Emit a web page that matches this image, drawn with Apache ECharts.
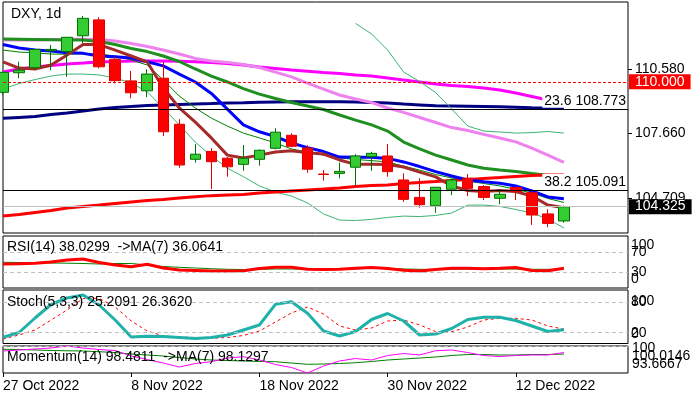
<!DOCTYPE html>
<html>
<head>
<meta charset="utf-8">
<title>DXY, 1d</title>
<script src="https://cdn.jsdelivr.net/npm/echarts@6/dist/echarts.min.js"></script>
<style>
    html, body { margin: 0; padding: 0; background: #fff; }
    #chart { width: 698px; height: 397px; }
</style>
</head>
<body>
<div id="chart"></div>
<script>
var FONT = 'Liberation Sans';

// trading days, last four are empty space on the right
var dates = ['27 Oct 2022', '28 Oct 2022', '31 Oct 2022', '1 Nov 2022', '2 Nov 2022', '3 Nov 2022', '4 Nov 2022',
    '7 Nov 2022', '8 Nov 2022', '9 Nov 2022', '10 Nov 2022', '11 Nov 2022', '14 Nov 2022', '15 Nov 2022',
    '16 Nov 2022', '17 Nov 2022', '18 Nov 2022', '21 Nov 2022', '22 Nov 2022', '23 Nov 2022', '24 Nov 2022',
    '25 Nov 2022', '28 Nov 2022', '29 Nov 2022', '30 Nov 2022', '1 Dec 2022', '2 Dec 2022', '5 Dec 2022',
    '6 Dec 2022', '7 Dec 2022', '8 Dec 2022', '9 Dec 2022', '12 Dec 2022', '13 Dec 2022', '14 Dec 2022',
    '15 Dec 2022', '16 Dec 2022', '19 Dec 2022', '20 Dec 2022', '21 Dec 2022'];

var opens = [109.52, 110.41, 110.64, 111.41, 111.37, 112.09, 112.81, 111.02, 110.04, 109.59, 110.16, 108.07,
    106.48, 106.84, 106.53, 106.25, 106.48, 106.98, 107.57, 106.99, 105.81, 105.84, 106.12, 106.60, 106.63,
    105.54, 104.75, 104.37, 105.12, 105.62, 105.24, 104.71, 105.20, 104.96, 104.00, 103.68];
var closes = [110.43, 110.53, 111.47, 111.47, 112.02, 112.88, 110.68, 110.05, 109.50, 110.35, 107.73, 106.22,
    106.71, 106.37, 106.14, 106.53, 106.89, 107.71, 107.07, 106.03, 105.79, 105.93, 106.63, 106.75, 105.92,
    104.66, 104.42, 105.21, 105.54, 105.16, 104.75, 104.89, 105.01, 103.95, 103.57, 104.325];
var lows = [109.40, 110.16, 110.53, 110.53, 110.23, 111.75, 110.61, 109.93, 109.25, 109.30, 107.54, 106.10,
    106.33, 105.13, 105.69, 105.96, 106.19, 106.93, 107.02, 105.87, 105.51, 105.62, 105.27, 105.96, 105.69,
    104.55, 104.28, 104.05, 104.85, 104.81, 104.63, 104.44, 104.63, 103.50, 103.39, 103.60];
var highs = [110.46, 110.91, 111.49, 111.67, 112.03, 112.99, 112.93, 111.14, 110.49, 110.57, 110.91, 108.30,
    107.17, 106.98, 106.58, 107.13, 106.93, 107.89, 107.66, 107.12, 105.99, 106.33, 106.71, 106.82, 107.17,
    105.84, 105.62, 105.22, 105.61, 105.81, 105.31, 105.09, 105.23, 105.09, 104.21, 104.38];

var brownMa = [110.90, 110.62, 110.58, 110.76, 111.22, 111.69, 111.69, 111.44, 111.17, 110.90, 109.72, 108.81,
    108.17, 107.45, 106.67, 106.54, 106.67, 106.81, 106.87, 106.78, 106.72, 106.45, 106.25, 106.25, 106.24,
    106.13, 105.90, 105.68, 105.27, 105.06, 105.02, 105.06, 105.02, 104.81, 104.40, 104.28];
var blueMa = [111.69, 111.53, 111.44, 111.40, 111.32, 111.29, 111.17, 111.14, 111.08, 110.91, 110.72, 110.35,
    109.99, 109.47, 108.76, 108.04, 107.73, 107.51, 107.22, 107.01, 106.83, 106.58, 106.57, 106.57, 106.52,
    106.36, 106.15, 105.92, 105.72, 105.54, 105.46, 105.39, 105.27, 105.04, 104.77, 104.69];
var bandMid = [111.94, 111.93, 111.92, 111.91, 111.90, 111.90, 111.83, 111.69, 111.51, 111.37, 111.17, 110.92,
    110.58, 110.26, 109.99, 109.69, 109.44, 109.24, 109.06, 108.90, 108.74, 108.49, 108.26, 108.04, 107.76,
    107.26, 106.95, 106.67, 106.45, 106.22, 106.07, 105.99, 105.93, 105.83, 105.74, 105.70];
var bandUpper = [null, null, null, null, null, null, null, null, null, null, null, null, null, null, null,
    null, null, null, null, null, null, null, 112.65, 112.17, 111.44, 110.44, 110.01, 109.51, 108.76, 107.99,
    107.76, 107.72, 107.67, 107.69, 107.74, 107.67];
var bandLower = [109.67, 109.92, 110.10, 110.26, 110.35, 110.35, 110.31, 110.17, 109.94, 109.54, 108.81, 108.04,
    107.26, 106.63, 106.08, 105.69, 105.27, 104.99, 104.81, 104.50, 104.00, 103.72, 103.70, 103.75, 103.84,
    103.90, 103.88, 103.93, 104.04, 104.40, 104.40, 104.34, 104.20, 104.04, 103.77, 103.36];
var violetMa = [111.90, 111.90, 111.90, 111.92, 111.93, 111.93, 111.92, 111.85, 111.74, 111.60, 111.44, 111.26,
    111.06, 110.94, 110.88, 110.78, 110.65, 110.44, 110.22, 109.94, 109.67, 109.40, 109.22, 109.06, 108.81,
    108.61, 108.38, 108.15, 107.92, 107.79, 107.61, 107.45, 107.27, 106.99, 106.67, 106.34];
var magentaMa = [110.44, 110.58, 110.67, 110.74, 110.81, 110.85, 110.90, 110.92, 110.94, 110.94, 110.94, 110.93,
    110.91, 110.88, 110.83, 110.76, 110.67, 110.60, 110.53, 110.48, 110.42, 110.38, 110.31, 110.26, 110.17,
    110.08, 109.99, 109.90, 109.83, 109.79, 109.72, 109.63, 109.49, 109.33, 109.17, 109.04];
var navyMa = [108.34, 108.38, 108.42, 108.51, 108.58, 108.67, 108.76, 108.83, 108.88, 108.92, 108.95, 108.97,
    108.99, 109.01, 109.04, 109.05, 109.07, 109.08, 109.09, 109.09, 109.09, 109.09, 109.08, 109.06, 109.04,
    108.99, 108.95, 108.91, 108.90, 108.89, 108.88, 108.86, 108.84, 108.82, 108.81, 108.80];
var redMa = [103.90, 103.97, 104.06, 104.15, 104.27, 104.34, 104.40, 104.47, 104.54, 104.61, 104.65, 104.72,
    104.78, 104.83, 104.86, 104.88, 104.95, 104.99, 105.04, 105.09, 105.13, 105.18, 105.24, 105.29, 105.31,
    105.38, 105.43, 105.47, 105.52, 105.56, 105.61, 105.65, 105.70, 105.74, 105.77, 105.77];
var thinMa = [111.44, 111.35, 111.31, 111.26, 111.25, 111.28, 111.26, 111.17, 110.99, 110.76, 110.08, 109.35,
    108.81, 108.35, 107.99, 107.67, 107.45, 107.22, 106.95, 106.81, 106.67, 106.54, 106.47, 106.42, 106.36,
    106.17, 105.99, 105.79, 105.63, 105.49, 105.38, 105.27, 105.11, 104.95, 104.70, 104.52];

var rsi = [46.6, 47.2, 48.0, 50.6, 54.6, 56.6, 49.6, 44.6, 41.2, 46.0, 38.6, 34.6, 33.6, 32.6, 32.6, 33.2, 37.6,
    40.0, 40.0, 36.0, 35.6, 36.0, 38.0, 39.6, 37.6, 34.0, 32.6, 35.6, 38.0, 38.0, 37.2, 38.0, 39.6, 33.6, 33.2,
    38.0299];
var rsiMa = [50.0, 49.6, 48.6, 48.6, 48.2, 47.6, 46.6, 47.6, 47.6, 44.6, 41.6, 40.0, 38.6, 37.2, 36.0, 35.6, 36.0,
    36.6, 36.6, 36.0, 36.0, 36.0, 36.6, 38.6, 37.6, 36.6, 36.0, 35.6, 36.0, 36.6, 36.6, 36.6, 36.6, 36.0, 36.0,
    36.0641];
var stochK = [10.0, 19.6, 48.6, 75.6, 88.6, 94.6, 74.6, 44.6, 10.6, 12.2, 11.6, 9.6, 7.6, 9.6, 14.6, 24.6, 34.6,
    76.0, 81.2, 58.0, 22.6, 12.6, 21.6, 45.6, 57.6, 42.6, 14.6, 16.6, 27.6, 45.6, 50.0, 50.0, 43.6, 32.6, 21.6,
    25.2091];
var stochD = [6.6, 14.6, 24.6, 44.6, 64.6, 87.6, 88.0, 70.6, 42.6, 22.6, 12.6, 10.6, 9.6, 8.0, 9.6, 13.6, 22.6,
    40.6, 58.6, 70.6, 56.6, 32.6, 24.6, 28.6, 42.6, 44.6, 34.6, 21.6, 21.2, 30.6, 44.6, 48.0, 48.0, 44.6, 32.6,
    26.3620];
var momentum = [98.84, 99.07, 99.31, 99.54, 100.0146, 99.54, 99.19, 98.96, 97.66, 96.84, 96.01, 95.07, 95.90,
    96.32, 97.19, 97.50, 96.72, 95.66, 94.96, 93.6667, 95.31, 96.49, 97.07, 96.72, 97.78, 98.25, 97.90, 98.91,
    99.07, 98.48, 97.78, 97.54, 97.78, 97.90, 97.90, 98.4811];
var momentumMa = [99.24, 99.19, 99.07, 98.96, 98.89, 98.84, 98.67, 98.48, 98.13, 97.90, 97.66, 97.31, 96.96,
    96.72, 96.60, 96.49, 96.37, 96.32, 96.01, 95.71, 95.78, 95.90, 96.08, 96.37, 96.72, 96.96, 97.19, 97.43,
    97.78, 98.01, 98.01, 97.90, 97.90, 98.01, 98.01, 98.1297];

// tick labels and reference levels
var priceTicks = [104.709, 107.660, 110.580];
var fibLevels = ['23.6', '38.2'];
var fibPrices = [108.773, 105.091];
var roundLevel = 110.000;
var lastPrice = 104.325;
var rsiTicks = [30, 70];
var rsiEdgeTicks = [0, 100];
var rsiLevels = [30, 70];
var stochTicks = [20, 80];
var stochEdgeTicks = [0, 100];
var stochLevels = [20, 80];
var momentumTicks = [93.6667, 100];
var momentumEdgeTicks = [100.0146];
var momentumLevels = [100];

var last = closes.length - 1;
var candles = opens.map(function(o, i) {
    return [o, closes[i], lows[i], highs[i]];
});

//label helper: moves selected labels up/down inside the panel
function panelLabels(ticks, shifts, margin) {
    var base = { fontFamily: FONT, fontSize: 14, color: '#000' };
    var rich = { n: base };
    Object.keys(shifts).forEach(function(k) {
        var s = shifts[k];
        rich['s' + k.replace('.', '_')] = Object.assign({}, base, {
            padding: s > 0 ? [2 * s, 0, 0, 0] : [0, 0, -2 * s, 0]
        });
    });
    return {
        customValues: ticks,
        margin: margin,
        hideOverlap: false,
        formatter: function(v) {
            var key = String(v);
            var tag = shifts[key] !== undefined ? 's' + key.replace('.', '_') : 'n';
            return '{' + tag + '|' + key + '}';
        },
        rich: rich
    };
}

function levelLines(levels) {
    return {
        symbol: 'none',
        silent: true,
        label: { show: false },
        lineStyle: { color: '#c0c0c0', type: [4, 3], width: 1 },
        data: levels.map(function(v) { return { yAxis: v }; })
    };
}

function line(data, color, width, axis, extra) {
    return Object.assign({
        type: 'line',
        data: data,
        xAxisIndex: axis,
        yAxisIndex: axis,
        symbol: 'none',
        showSymbol: false,
        silent: true,
        z: 2,
        lineStyle: { color: color, width: width },
        itemStyle: { color: color }
    }, extra || {});
}

var grids = [
    { top: 2, height: 231 },
    { top: 236, height: 52 },
    { top: 290, height: 53.5 },
    { top: 346, height: 27 }
].map(function(g) {
    return Object.assign({
        left: 3,
        right: 70,
        show: true,
        borderColor: '#000',
        borderWidth: 1,
        outerBoundsMode: 'none'
    }, g);
});

var xAxes = grids.map(function(g, i) {
    var bottom = i === 3;
    return {
        type: 'category',
        gridIndex: i,
        data: dates,
        boundaryGap: false,
        axisLine: { show: false },
        splitLine: { show: false },
        axisTick: { show: bottom, interval: 7, length: 4, lineStyle: { color: '#000' } },
        axisLabel: {
            show: bottom,
            interval: 7,
            align: 'left',
            margin: 6,
            fontFamily: FONT,
            fontSize: 14,
            color: '#000'
        }
    };
});

var yBase = {
    type: 'value',
    position: 'right',
    axisLine: { show: false },
    splitLine: { show: false },
    axisTick: { show: false }
};

// panel ranges: [gridIndex, min, max]
var panelRanges = [[1, -1.4, 102.6], [2, -2.4, 104.6], [3, 93.6667, 100.0146]];

var yAxes = [
    Object.assign({}, yBase, {
        gridIndex: 0,
        min: 103.133,
        max: 113.622,
        axisTick: { show: true, customValues: priceTicks, length: 4, lineStyle: { color: '#000' } },
        axisLabel: {
            customValues: priceTicks,
            margin: 7,
            fontFamily: FONT,
            fontSize: 14,
            color: '#000',
            formatter: function(v) { return v.toFixed(3); }
        }
    }),
    Object.assign({}, yBase, {
        gridIndex: 1, min: -1.4, max: 102.6,
        axisLabel: panelLabels(rsiTicks, {}, 3)
    }),
    Object.assign({}, yBase, {
        gridIndex: 2, min: -2.4, max: 104.6,
        axisLabel: panelLabels(stochTicks, { '20': 1 }, 3)
    }),
    Object.assign({}, yBase, {
        gridIndex: 3, min: 93.6667, max: 100.0146,
        axisLabel: panelLabels(momentumTicks, { '100': 2, '93.6667': -9 }, 4)
    }),
    // second label axis per panel so clamped edge labels can overlap the others
    Object.assign({}, yBase, {
        gridIndex: 1, min: -1.4, max: 102.6,
        axisLabel: panelLabels(rsiEdgeTicks, { '100': 8, '0': -8 }, 3)
    }),
    Object.assign({}, yBase, {
        gridIndex: 2, min: -2.4, max: 104.6,
        axisLabel: panelLabels(stochEdgeTicks, { '100': 9, '0': -8 }, 3)
    }),
    Object.assign({}, yBase, {
        gridIndex: 3, min: 93.6667, max: 100.0146,
        axisLabel: panelLabels(momentumEdgeTicks, { '100.0146': 10 }, 4)
    })
];

var titleStyle = { fontFamily: FONT, fontSize: 14, fontWeight: 'normal', color: '#000' };
var titles = [
    { text: 'DXY, 1d', left: 11, top: 7 },
    { text: 'RSI(14) ' + rsi[last].toFixed(4) + '  ->MA(7) ' + rsiMa[last].toFixed(4), left: 7, top: 240 },
    { text: 'Stoch(5,3,3) ' + stochK[last].toFixed(4) + ' ' + stochD[last].toFixed(4), left: 7, top: 295 },
    { text: 'Momentum(14) ' + momentum[last].toFixed(4) + '  ->MA(7) ' + momentumMa[last].toFixed(4), left: 7, top: 350 }
].map(function(t) {
    return Object.assign({ padding: 0, textStyle: titleStyle }, t);
});

var fibMarks = fibPrices.map(function(p, i) {
    return {
        yAxis: p,
        lineStyle: { color: '#000', type: 'solid', width: 1 },
        label: {
            show: true,
            position: 'insideEndTop',
            distance: [2, 1],
            formatter: fibLevels[i] + ' ' + p.toFixed(3),
            backgroundColor: '#fff',
            color: '#000',
            fontFamily: FONT,
            fontSize: 14,
            padding: [1, 0, 0, 2]
        }
    };
});

var priceBox = function(v, bg, lineStyle) {
    return {
        yAxis: v,
        lineStyle: lineStyle,
        label: {
            show: true,
            position: 'end',
            distance: 1,
            formatter: v.toFixed(3),
            backgroundColor: bg,
            color: '#fff',
            fontFamily: FONT,
            fontSize: 14,
            padding: [1, 6, 0, 6]
        }
    };
};

var series = [
    line(navyMa, '#000080', 3, 0),
    line(magentaMa, '#ff00ff', 3, 0),
    line(violetMa, '#ee82ee', 3, 0),
    line(bandMid, '#1f8f1f', 3, 0),
    line(bandUpper, '#3cb371', 1, 0),
    line(bandLower, '#3cb371', 1, 0),
    line(thinMa, '#008000', 1, 0),
    line(redMa, '#ff0000', 3, 0),
    line(blueMa, '#0000ff', 3, 0),
    line(brownMa, '#a52a2a', 3, 0),
    {
        type: 'candlestick',
        data: candles,
        xAxisIndex: 0,
        yAxisIndex: 0,
        barWidth: 11,
        silent: true,
        z: 4,
        itemStyle: {
            color: '#33cc33',
            color0: '#ff0000',
            borderColor: '#007000',
            borderColor0: '#e00000',
            borderWidth: 1
        },
        markLine: {
            symbol: 'none',
            silent: true,
            z: 6,
            data: fibMarks.concat([
                priceBox(roundLevel, '#ff0000', { color: '#ff0000', type: [3, 2], width: 1 }),
                priceBox(lastPrice, '#000000', { color: '#c0c0c0', type: 'solid', width: 1 })
            ])
        }
    },
    line(rsiMa, '#008000', 1, 1),
    line(rsi, '#ff0000', 3, 1, { markLine: levelLines(rsiLevels) }),
    line(stochD, '#ff0000', 1, 2, { lineStyle: { color: '#ff0000', width: 1, type: [3, 3] } }),
    line(stochK, '#20b2aa', 3, 2, { markLine: levelLines(stochLevels) }),
    line(momentumMa, '#008000', 1, 3),
    line(momentum, '#ff00ff', 1, 3, { markLine: levelLines(momentumLevels) })
];

var myChart = echarts.init(document.getElementById('chart'), null, { renderer: 'canvas' });
myChart.setOption({
    animation: false,
    backgroundColor: '#fff',
    title: titles,
    grid: grids,
    xAxis: xAxes,
    yAxis: yAxes,
    series: series
});
</script>
</body>
</html>
